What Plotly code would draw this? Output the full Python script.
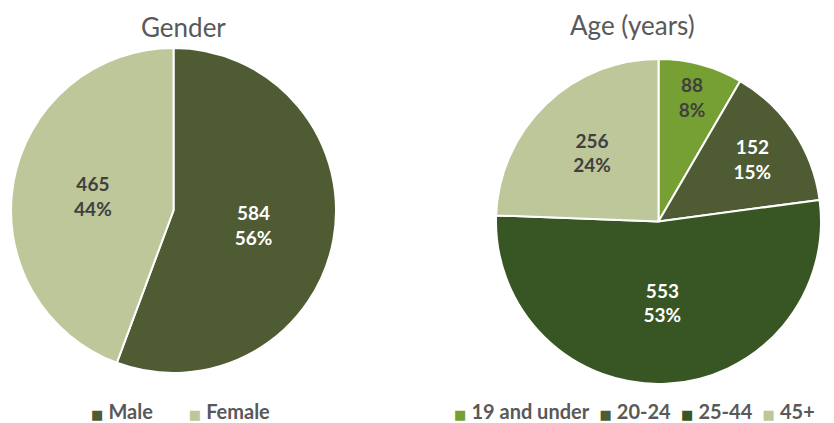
import plotly.graph_objects as go

gender_labels = ["Male", "Female"]
gender_values = [584, 465]
gender_pct = ["56%", "44%"]
gender_colors = ["#4F5B33", "#BDC79A"]
gender_text_colors = ["#FFFFFF", "#404040"]

age_labels = ["19 and under", "20-24", "25-44", "45+"]
age_values = [88, 152, 553, 256]
age_pct = ["8%", "15%", "53%", "24%"]
age_colors = ["#76A034", "#4F5B33", "#375623", "#BDC79A"]
age_text_colors = ["#404040", "#FFFFFF", "#FFFFFF", "#404040"]

W, H = 834, 423
FONT = "Lato"
TXT = "#595959"

def px(x):
    return x / W

def py(y):
    return 1 - y / H

def dom(x0, x1, ytop, ybot):
    return dict(x=[px(x0), px(x1)], y=[py(ybot), py(ytop)])

def legend_text(labels, colors, gap):
    parts = []
    for lab, col in zip(labels, colors):
        parts.append(
            f"<span style='color:{col};font-family:DejaVu Sans;font-size:13px'>■</span>"
            f"\u00a0<b>{lab}</b>")
    return ("\u00a0" * gap).join(parts)

fig = go.Figure()
fig.add_trace(go.Pie(
    labels=gender_labels, values=gender_values, text=gender_pct,
    texttemplate="%{value}<br>%{text}", textposition="inside",
    insidetextorientation="horizontal",
    sort=False, direction="clockwise", rotation=0,
    marker=dict(colors=gender_colors, line=dict(color="white", width=2)),
    insidetextfont=dict(family=FONT, size=19, color=gender_text_colors, weight="bold"),
    domain=dom(11, 336, 48, 373), showlegend=False, hoverinfo="skip",
))
fig.add_trace(go.Pie(
    labels=age_labels, values=age_values, text=age_pct,
    texttemplate="%{value}<br>%{text}", textposition="inside",
    insidetextorientation="horizontal",
    sort=False, direction="clockwise", rotation=0,
    marker=dict(colors=age_colors, line=dict(color="white", width=2)),
    insidetextfont=dict(family=FONT, size=19, color=age_text_colors, weight="bold"),
    domain=dom(496, 821, 59, 384), showlegend=False, hoverinfo="skip",
))

fig.update_layout(
    width=W, height=H, margin=dict(l=0, r=0, t=0, b=0),
    paper_bgcolor="white", plot_bgcolor="white",
    font=dict(family=FONT, color=TXT),
    uniformtext=dict(minsize=10, mode="show"),
    showlegend=False,
    annotations=[
        dict(text="Gender", x=px(183), y=py(27), xref="paper", yref="paper",
             showarrow=False, font=dict(size=26, color=TXT, family=FONT),
             xanchor="center", yanchor="middle"),
        dict(text="Age (years)", x=px(632), y=py(25), xref="paper", yref="paper",
             showarrow=False, font=dict(size=26, color=TXT, family=FONT),
             xanchor="center", yanchor="middle"),
        dict(text=legend_text(gender_labels, gender_colors, 7), x=px(180), y=py(411),
             xref="paper", yref="paper", showarrow=False,
             font=dict(size=20, color=TXT, family=FONT), xanchor="center", yanchor="middle"),
        dict(text=legend_text(age_labels, age_colors, 2), x=px(634), y=py(411),
             xref="paper", yref="paper", showarrow=False,
             font=dict(size=20, color=TXT, family=FONT), xanchor="center", yanchor="middle"),
    ],
)

fig.write_html(
    "out.html",
    config={"displayModeBar": False},
    post_script="document.body.style.margin='0';document.body.style.overflow='hidden';",
)
